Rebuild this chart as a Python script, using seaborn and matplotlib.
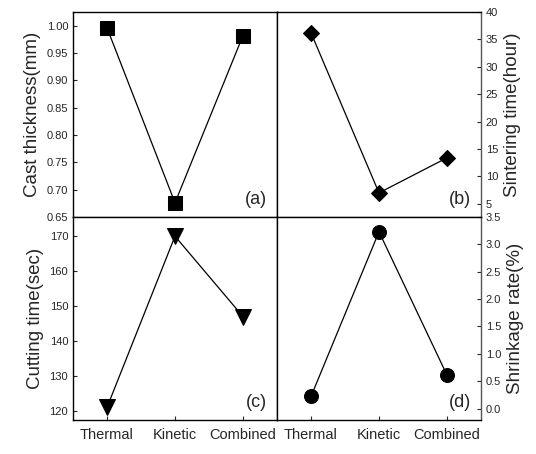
import matplotlib
matplotlib.use("Agg")
import matplotlib.pyplot as plt
import seaborn as sns
import pandas as pd

methods = ["Thermal", "Kinetic", "Combined"]
cast_thickness = [0.996, 0.676, 0.982]
sintering_time = [36.2, 7.0, 13.4]
cutting_time = [121, 170, 147]
shrinkage_rate = [0.22, 3.23, 0.61]

sns.set_style("ticks")
plt.rcParams["font.family"] = ["Liberation Sans", "DejaVu Sans"]

fig = plt.figure(figsize=(5.36, 4.54), dpi=100)
left, w = 73 / 536, 204 / 536
top_y, mid_y, bot_y = 1 - 12 / 454, 1 - 217 / 454, 1 - 420 / 454
h_top, h_bot = top_y - mid_y, mid_y - bot_y

ax_a = fig.add_axes([left, mid_y, w, h_top])
ax_b = fig.add_axes([left + w, mid_y, w, h_top])
ax_c = fig.add_axes([left, bot_y, w, h_bot])
ax_d = fig.add_axes([left + w, bot_y, w, h_bot])

panels = [
    (ax_a, cast_thickness, "s", 9.5, "Cast thickness(mm)", "(a)", (0.65, 1.025),
     [0.65, 0.70, 0.75, 0.80, 0.85, 0.90, 0.95, 1.00], "{:.2f}", "left"),
    (ax_b, sintering_time, "D", 8.5, "Sintering time(hour)", "(b)", (2.6, 40),
     [5, 10, 15, 20, 25, 30, 35, 40], "{:.0f}", "right"),
    (ax_c, cutting_time, "v", 11.5, "Cutting time(sec)", "(c)", (117.4, 175.5),
     [120, 130, 140, 150, 160, 170], "{:.0f}", "left"),
    (ax_d, shrinkage_rate, "o", 10, "Shrinkage rate(%)", "(d)", (-0.21, 3.5),
     [0.0, 0.5, 1.0, 1.5, 2.0, 2.5, 3.0, 3.5], "{:.1f}", "right"),
]

for ax, vals, mk, ms, ylabel, tag, ylim, ticks, fmt, side in panels:
    df = pd.DataFrame({"method": methods, "value": vals})
    sns.lineplot(data=df, x="method", y="value", marker=mk, markersize=ms,
                 color="black", markeredgecolor="black", linewidth=0.9,
                 sort=False, ax=ax)
    ax.set_xlim(-0.5, 2.5)
    ax.set_ylim(*ylim)
    ax.set_yticks(ticks)
    ax.set_yticklabels([fmt.format(t) for t in ticks])
    ax.set_xlabel("")
    ax.set_ylabel(ylabel, fontsize=13.5)
    ax.text(0.95, 0.045, tag, transform=ax.transAxes, ha="right", va="bottom",
            fontsize=13)
    for sp in ax.spines.values():
        sp.set_visible(True)
        sp.set_linewidth(1.0)
        sp.set_color("black")
    ax.tick_params(axis="y", labelsize=8, length=3, width=0.8, direction="in")
    ax.tick_params(axis="x", labelsize=10.5, length=3, width=0.8, direction="in",
                   pad=6)
    if side == "right":
        ax.yaxis.tick_right()
        ax.yaxis.set_label_position("right")
        ax.spines["right"].set_color("#555555")
    if ax in (ax_a, ax_b):
        ax.set_xticklabels([])
        ax.tick_params(axis="x", length=0)
        ax.spines["bottom"].set_color("#666666")

ax_c.set_xticks(range(3))
ax_c.set_xticklabels(methods)
ax_d.set_xticks(range(3))
ax_d.set_xticklabels(methods)

fig.savefig("out.png", dpi=100)
